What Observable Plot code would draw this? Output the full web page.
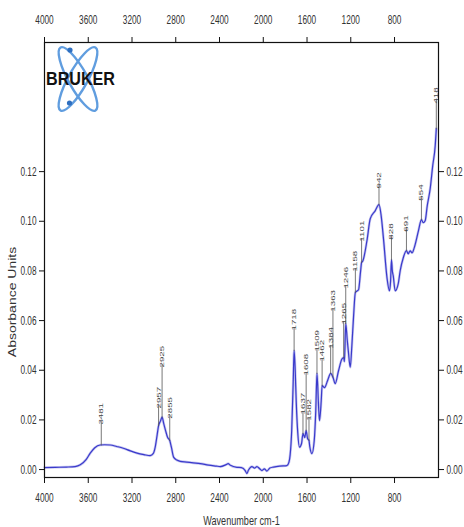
<!DOCTYPE html>
<html>
<head>
<meta charset="utf-8">
<script src="https://cdn.jsdelivr.net/npm/d3@7"></script>
<script src="https://cdn.jsdelivr.net/npm/@observablehq/plot@0.6"></script>
<style>
  html, body { margin: 0; padding: 0; background: #fff; }
  #wrap { position: relative; width: 464px; height: 527px; }
  #logo { position: absolute; left: 0; top: 0; pointer-events: none; }
</style>
</head>
<body>
<div id="wrap"></div>
<script>
// Spectrum (wavenumber cm-1, absorbance units)
const wavenumber = [4000,3900,3800,3720,3673,3620,3582,3540,3491,3450,3399,3340,3280,3220,3153,3090,3034,3005,2988,2970,2957,2940,2925,2910,2895,2875,2855,2840,2820,2790,2759,2700,2640,2576,2500,2430,2394,2340,2321,2300,2241,2200,2165,2150,2135,2104,2080,2058,2030,2012,1990,1967,1940,1906,1850,1784,1765,1754,1740,1726,1718,1708,1699,1685,1669,1650,1637,1621,1608,1595,1582,1575,1555,1534,1520,1509,1495,1486,1470,1462,1440,1418,1406,1384,1363,1342,1312,1281,1265,1258,1246,1232,1223,1205,1190,1175,1158,1140,1129,1110,1101,1090,1052,1022,977,942,922,901,869,846,836,828,820,812,794,766,748,720,691,675,657,639,620,581,554,538,520,501,474,451,428,418];
const absorbance = [0.0008,0.0009,0.0010,0.0012,0.0019,0.0040,0.0066,0.0088,0.0099,0.0100,0.0099,0.0093,0.0086,0.0076,0.0066,0.0060,0.0056,0.0065,0.0090,0.0140,0.0177,0.0195,0.0211,0.0185,0.0160,0.0130,0.0117,0.0090,0.0050,0.0038,0.0033,0.0030,0.0027,0.0024,0.0018,0.0014,0.0012,0.0020,0.0024,0.0017,0.0009,0.0008,-0.0004,-0.0016,-0.0002,0.0012,0.0006,0.0012,0.0002,-0.0004,0.0003,-0.0006,0.0006,0.0010,0.0014,0.0016,0.0030,0.0060,0.0157,0.0358,0.0479,0.0400,0.0278,0.0150,0.0090,0.0105,0.0145,0.0129,0.0157,0.0125,0.0117,0.0093,0.0064,0.0117,0.0237,0.0387,0.0260,0.0197,0.0278,0.0338,0.0330,0.0351,0.0366,0.0387,0.0372,0.0346,0.0398,0.0445,0.0451,0.0435,0.0588,0.0520,0.0480,0.0412,0.0499,0.0613,0.0713,0.0720,0.0724,0.0800,0.0834,0.0840,0.0922,0.1010,0.1042,0.1067,0.1022,0.0930,0.0773,0.0720,0.0760,0.0846,0.0800,0.0781,0.0720,0.0749,0.0801,0.0853,0.0882,0.0869,0.0881,0.0873,0.0893,0.0962,0.1007,0.0994,0.1002,0.1062,0.1131,0.1223,0.1304,0.1373];

// Peak picks: position, curve value, level where the label starts
const peakWn = [3481,2957,2925,2855,1718,1637,1608,1582,1509,1462,1384,1363,1265,1246,1158,1101,942,828,691,554,418];
const peakAbs = [0.0099,0.0177,0.0211,0.0117,0.0479,0.0145,0.0157,0.0117,0.0387,0.0338,0.0387,0.0372,0.0451,0.0588,0.0713,0.0834,0.1067,0.0846,0.0882,0.1007,0.1373];
const peakLabelAbs = [0.0181,0.0246,0.0411,0.0205,0.0560,0.0222,0.0379,0.0197,0.0475,0.0435,0.0487,0.0636,0.0584,0.0729,0.0797,0.0918,0.1132,0.0926,0.0958,0.1083,0.1474];

// Tick labels
const xTicks = [4000,3600,3200,2800,2400,2000,1600,1200,800];
const yTicks = [0.00,0.02,0.04,0.06,0.08,0.10,0.12];
const xTitle = "Wavenumber cm-1";
const yTitle = "Absorbance Units";

const spectrum = wavenumber.map((w, i) => ({w, a: absorbance[i]}));
const peaks = peakWn.map((w, i) => ({w, a: peakAbs[i], l: peakLabelAbs[i]}));

const fmt = d3.format(".2f");
const chart = Plot.plot({
  width: 464,
  height: 527,
  marginLeft: 44,
  marginRight: 26,
  marginTop: 42,
  marginBottom: 50,
  style: {fontFamily: "'Liberation Sans', Arial, sans-serif", fontSize: "12.5px", color: "#333", background: "#fff"},
  x: {domain: [4000, 398]},
  y: {domain: [-0.0032, 0.172]},
  marks: [
    Plot.line(spectrum, {x: "w", y: "a", stroke: "#9a9ae6", strokeWidth: 2.6, strokeOpacity: 0.55, curve: "monotone-x"}),
    Plot.line(spectrum, {x: "w", y: "a", stroke: "#3a3acb", strokeWidth: 1.2, curve: "monotone-x"}),
    Plot.ruleX(peaks, {x: "w", y1: "a", y2: "l", stroke: "#555", strokeWidth: 0.8, insetBottom: 3, insetTop: 1}),
    Plot.text(peaks, {x: "w", y: "l", text: d => String(d.w), rotate: -90, textAnchor: "start", lineAnchor: "middle", fontSize: 7.5, fill: "#444"}),
    Plot.frame({stroke: "#111", strokeWidth: 1.2}),
    Plot.axisX({anchor: "top", ticks: xTicks, tickSize: 6, tickPadding: 13, tickFormat: d => String(d), label: null, stroke: "#111"}),
    Plot.axisX({anchor: "bottom", ticks: xTicks, tickSize: 6, tickPadding: 10, tickFormat: d => String(d), label: null, stroke: "#111"}),
    Plot.axisY({anchor: "left", ticks: yTicks, tickSize: 5, tickPadding: 3, tickFormat: fmt, label: null, stroke: "#111"}),
    Plot.axisY({anchor: "right", ticks: yTicks, tickSize: 5, tickPadding: 3, tickFormat: fmt, label: null, stroke: "#111"}),
    Plot.text([xTitle], {frameAnchor: "bottom", dy: 43, lineAnchor: "middle", textAnchor: "middle", fontSize: 13, fill: "#333"}),
    Plot.text([yTitle], {frameAnchor: "left", rotate: -90, dx: -32, dy: 42, lineAnchor: "middle", textAnchor: "middle", fontSize: 14, fill: "#333"})
  ]
});

const wrap = document.getElementById("wrap");
wrap.appendChild(chart);

// append a scale to a text's own transform (keeps its anchor point fixed)
function squeeze(t, sx, sy) {
  const tr = t.getAttribute("transform");
  if (tr) {
    t.setAttribute("transform", tr + ` scale(${sx},${sy})`);
  } else {
    const x = +t.getAttribute("x") || 0, y = +t.getAttribute("y") || 0;
    t.removeAttribute("x"); t.removeAttribute("y");
    t.setAttribute("transform", `translate(${x},${y}) scale(${sx},${sy})`);
  }
}
chart.querySelectorAll('g[aria-label$="tick label"] text').forEach(t => squeeze(t, 0.66, 1));
const textGroups = chart.querySelectorAll('g[aria-label="text"]');
if (textGroups[0]) textGroups[0].querySelectorAll("text").forEach(t => squeeze(t, 1.3, 0.8));
if (textGroups[1]) textGroups[1].querySelectorAll("text").forEach(t => squeeze(t, 0.7, 1));
if (textGroups[2]) textGroups[2].querySelectorAll("text").forEach(t => squeeze(t, 1, 0.8));

// Bruker logo
const ns = "http://www.w3.org/2000/svg";
const logo = document.createElementNS(ns, "svg");
logo.setAttribute("id", "logo");
logo.setAttribute("width", "464");
logo.setAttribute("height", "527");
logo.innerHTML = `
  <g fill="none" stroke="#4f93dc" stroke-width="2.4" opacity="0.9">
    <ellipse cx="78" cy="79" rx="9.5" ry="36" transform="rotate(-29 78 79)"/>
    <ellipse cx="78" cy="79" rx="9.5" ry="36" transform="rotate(29 78 79)"/>
  </g>
  <circle cx="70" cy="50" r="2.6" fill="#2f6fc0"/>
  <circle cx="69.5" cy="103" r="2.6" fill="#2f6fc0"/>
  <text x="46" y="85" font-family="'Liberation Sans', Arial, sans-serif" font-weight="bold" font-size="19" fill="#111" textLength="69" lengthAdjust="spacingAndGlyphs">BRUKER</text>
`;
wrap.appendChild(logo);
</script>
</body>
</html>
